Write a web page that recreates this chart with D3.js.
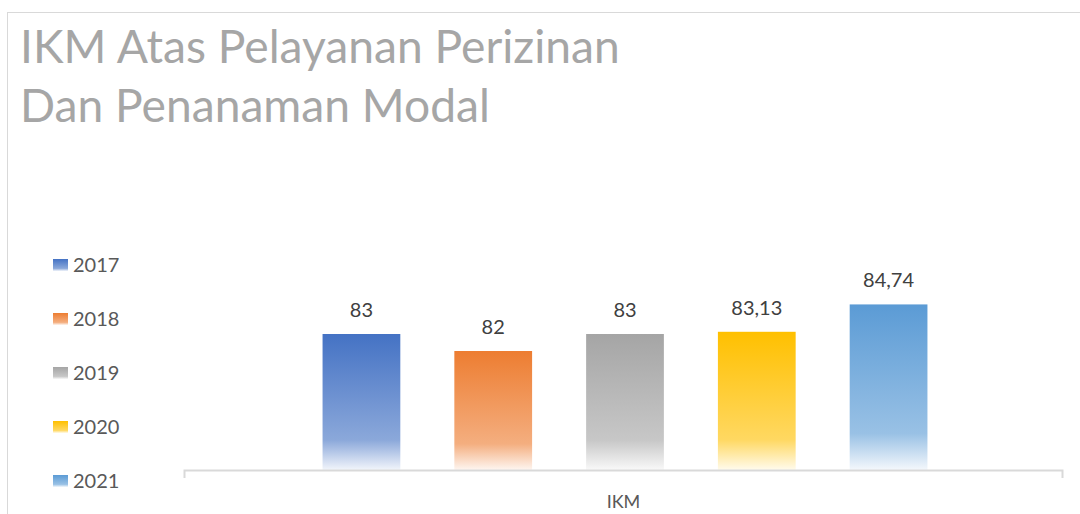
<!DOCTYPE html>
<html>
<head>
<meta charset="utf-8">
<script src="https://cdn.jsdelivr.net/npm/d3@7"></script>
<style>
  html, body { margin: 0; padding: 0; background: #fff; }
  svg { display: block; font-family: Lato, "Open Sans", sans-serif; }
</style>
</head>
<body>
<svg class="chartSVG" width="1080" height="514"></svg>
<script>
const titleLines = ['IKM Atas Pelayanan Perizinan', 'Dan Penanaman Modal'];
const category = ['IKM'];
const years = ['2017', '2018', '2019', '2020', '2021'];
const values = [83, 82, 83, 83.13, 84.74];
const labels = ['83', '82', '83', '83,13', '84,74'];
const yearCols = ['#4472C4', '#ED7D31', '#A5A5A5', '#FFC000', '#5B9BD5'];

const svg = d3.select('svg.chartSVG');
const baseY = 470;

const data = years.map((y, i) => ({year: y, value: values[i], label: labels[i], col: yearCols[i]}));

// chart border
svg.append('rect')
    .attr('x', 7.5)
    .attr('y', 12.5)
    .attr('width', 1100)
    .attr('height', 600)
    .style('fill', 'none')
    .style('stroke', '#d9d9d9')
    .style('stroke-width', 1);

// gradients, one for each year
const defs = svg.append('defs');
data.forEach((d, i) => {
  const grad = defs.append('linearGradient')
      .attr('id', 'grad' + i)
      .attr('x1', 0).attr('y1', 0)
      .attr('x2', 0).attr('y2', 1);
  grad.append('stop').attr('offset', '0').attr('stop-color', d.col);
  grad.append('stop').attr('offset', '0.78').attr('stop-color', d3.interpolateRgb(d.col, '#fff')(0.38));
  grad.append('stop').attr('offset', '1').attr('stop-color', d3.interpolateRgb(d.col, '#fff')(0.93));
});

// scales
const xCat = d3.scaleBand()
    .domain(category)
    .range([184, 1063]);

const xYear = d3.scaleBand()
    .domain(years)
    .range([xCat('IKM') + 1.5, xCat('IKM') + xCat.bandwidth() + 1.5])
    .paddingInner(0.41)
    .paddingOuter(1.04);

const y = d3.scaleLinear()
    .domain([75, 86])
    .range([baseY, baseY - 11 * 17]);

// title
const titleGrp = svg.append('g').attr('class', 'title');
titleLines.forEach((t, i) => {
  titleGrp.append('text')
      .attr('x', 20)
      .attr('y', 63 + i * 59)
      .text(t)
      .style('font-size', '42px')
      .style('font-weight', 400)
      .style('fill', '#a6a6a6');
});
// fit the first line to its width in the reference
const firstLine = titleGrp.select('text').node();
const fitSize = 42 * 600 / firstLine.getComputedTextLength();
titleGrp.selectAll('text').style('font-size', fitSize + 'px');

// bars
svg.append('g')
    .attr('class', 'bars')
    .selectAll('rect')
    .data(data)
    .enter()
    .append('rect')
    .attr('x', d => xYear(d.year))
    .attr('y', d => y(d.value))
    .attr('width', xYear.bandwidth())
    .attr('height', d => baseY - y(d.value))
    .style('fill', (d, i) => `url(#grad${i})`);

// data labels
svg.append('g')
    .attr('class', 'dataLabels')
    .selectAll('text')
    .data(data)
    .enter()
    .append('text')
    .attr('x', d => xYear(d.year) + xYear.bandwidth() / 2)
    .attr('y', d => y(d.value) - 17)
    .text(d => d.label)
    .style('text-anchor', 'middle')
    .style('font-size', '20px')
    .style('fill', '#404040');

// x axis
const xAxis = svg.append('g')
    .attr('class', 'xAxis')
    .attr('transform', `translate(0, ${baseY})`)
    .call(d3.axisBottom(xCat).tickSize(0).tickPadding(25));
xAxis.select('.domain').remove();
xAxis.append('path')
    .attr('d', `M184.5,8V0.5H1062.5V8`)
    .style('fill', 'none')
    .style('stroke', '#d9d9d9')
    .style('stroke-width', 2);
xAxis.selectAll('.tick text')
    .style('font-family', 'Lato, "Open Sans", sans-serif')
    .style('font-size', '18px')
    .style('fill', '#595959');

// legend
const legY = d3.scalePoint()
    .domain(years)
    .range([265, 481]);

const legend = svg.append('g')
    .attr('class', 'legend')
    .selectAll('g')
    .data(data)
    .enter()
    .append('g')
    .attr('transform', d => `translate(53, ${legY(d.year)})`);

legend.append('rect')
    .attr('x', 0)
    .attr('y', -6)
    .attr('width', 15)
    .attr('height', 12)
    .style('fill', (d, i) => `url(#grad${i})`);

legend.append('text')
    .attr('x', 20)
    .attr('y', 7)
    .text(d => d.year)
    .style('font-size', '20px')
    .style('fill', '#595959');
</script>
</body>
</html>
